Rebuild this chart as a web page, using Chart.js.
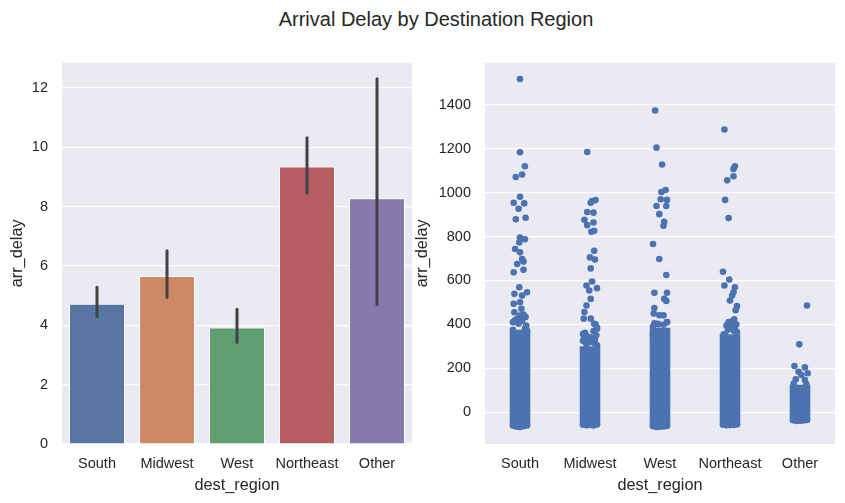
<!DOCTYPE html>
<html>
<head>
<meta charset="utf-8">
<script src="https://cdn.jsdelivr.net/npm/chart.js@4/dist/chart.umd.min.js"></script>
<style>
  body { margin: 0; background: #fff; }
  #wrap { position: relative; width: 845px; height: 503px; overflow: hidden; font-family: "Liberation Sans", Arial, sans-serif; }
  #title { position: absolute; left: 236px; top: 9px; width: 400px; text-align: center; font-size: 20px; line-height: 20px; color: #262626; }
  .box { position: absolute; top: 40px; height: 463px; }
  #leftBox { left: 0; width: 420px; }
  #rightBox { left: 405px; width: 440px; }
</style>
</head>
<body>
<div id="wrap">
  <div id="title">Arrival Delay by Destination Region</div>
  <div class="box" id="leftBox"><canvas id="barChart"></canvas></div>
  <div class="box" id="rightBox"><canvas id="stripChart"></canvas></div>
</div>
<script>
// categories
const regions = ['South', 'Midwest', 'West', 'Northeast', 'Other'];

// left: mean arr_delay with 95% CI
const meanDelay = [4.73, 5.66, 3.93, 9.35, 8.28];
const ciLow = [4.30, 4.94, 3.43, 8.46, 4.70];
const ciHigh = [5.28, 6.51, 4.54, 10.32, 12.31];
const barTicks = [0, 2, 4, 6, 8, 10, 12];

// right: dense band of overlapping points (from / to) per region
const denseLow = [-65, -58, -65, -58, -38];
const denseHigh = [375, 300, 385, 355, 125];
const stripTicks = [0, 200, 400, 600, 800, 1000, 1200, 1400];

// right: individual points around the band (jitter offset, delay)
const southJitter = [0, 0, 0.07, 0.03, -0.06, 0, -0.09, 0.06, -0.02, 0.08, -0.06, 0, 0.07, -0.01, -0.07, 0, 0.03, 0.05, -0.04, 0.05, -0.09, -0.01, 0.1, -0.08, 0.03, 0, -0.09, 0.02, 0.08, -0.07, -0.02, 0.07, -0.08, 0.05, -0.1, 0.09, 0, -0.04, 0.03, 0.1, -0.1,
    -0.1, -0.05, 0, 0.05, 0.1];
const southDelays = [1518, 1184, 1120, 1083, 1071, 981, 954, 951, 927, 886, 879, 796, 788, 773, 743, 728, 698, 686, 675, 649, 637, 569, 546, 539, 531, 501, 494, 471, 433, 418, 403, 380, 455, 445, 410, 395, 440, 425, 415, 372, 375,
    -62, -66, -68, -64, -61];
const midwestJitter = [-0.04, 0.03, 0.08, 0.01, -0.04, 0.05, -0.08, -0.04, 0.05, 0.06, 0.02, 0.06, 0, 0.07, 0.01, 0.03, -0.05, 0.1, -0.01, 0.01, -0.05, -0.08, -0.09, 0.01, 0.06, -0.09, 0.1, 0.08, 0.1, 0.05, 0.09, 0.02, 0.07, -0.07, -0.1, -0.05,
    -0.1, -0.07, -0.03, -0.09, 0, -0.05, 0.06, 0.1, 0.04,
    -0.1, -0.05, 0, 0.05, 0.1];
const midwestDelays = [1185, 962, 966, 954, 912, 909, 876, 852, 864, 826, 822, 735, 705, 695, 655, 595, 577, 565, 554, 516, 486, 456, 426, 426, 403, 358, 380, 400, 385, 370, 350, 340, 330, 340, 325, 310,
    355, 362, 345, 330, 320, 315, 315, 305, 335,
    -57, -60, -58, -61, -56];
const westJitter = [-0.07, -0.05, 0.03, 0.08, 0.02, 0.1, 0.01, -0.05, 0.09, -0.01, 0.06, 0.05, -0.1, -0.01, 0.09, -0.08, 0.1, 0.06, 0.09, -0.08, -0.09, -0.01, 0.05, -0.03, 0.1, -0.1,
    -0.08, -0.02, 0.05, 0.1, -0.1,
    -0.1, -0.05, 0, 0.05, 0.1];
const westDelays = [1374, 1205, 1128, 1012, 1003, 967, 970, 939, 939, 902, 867, 849, 766, 698, 625, 544, 544, 517, 507, 474, 449, 441, 441, 403, 411, 350,
    405, 400, 398, 410, 390,
    -64, -67, -66, -65, -63];
const northeastJitter = [-0.08, 0.07, 0.05, 0.05, -0.04, -0.07, -0.02, -0.1, -0.01, -0.08, 0.07, 0.05, 0.03, 0, 0.1, 0.08, -0.02, 0.06, 0.07, -0.07, 0.04, 0.09, -0.05, 0.01, 0.06, -0.09, 0.1, -0.03,
    -0.1, -0.05, 0, 0.05, 0.1];
const northeastDelays = [1288, 1120, 1108, 1075, 1056, 967, 884, 640, 604, 577, 569, 546, 531, 509, 483, 464, 411, 423, 380, 350, 415, 400, 395, 390, 370, 355, 365, 375,
    -57, -60, -59, -58, -56];
const otherJitter = [0.1, -0.01, -0.08, 0.07, -0.02, 0.02, 0.11, -0.06, 0.07, -0.09, 0.09,
    -0.1, -0.05, 0, 0.05, 0.1];
const otherDelays = [486, 309, 210, 204, 184, 169, 177, 150, 146, 130, 128,
    -37, -40, -39, -38, -36];

const stripJitter = [southJitter, midwestJitter, westJitter, northeastJitter, otherJitter];
const stripDelays = [southDelays, midwestDelays, westDelays, northeastDelays, otherDelays];

const barColors = ['#5975a4', '#cc8963', '#5f9e6e', '#b55d60', '#857aab'];
const pointColor = '#4c72b0';
const textColor = '#262626';
const fontFamily = '"Liberation Sans", Arial, sans-serif';

const plotBackground = {
    id: 'plotBackground',
    beforeDraw(chart) {
        const {ctx, chartArea: a} = chart;
        ctx.save();
        ctx.fillStyle = '#eaeaf2';
        ctx.fillRect(a.left, a.top, a.right - a.left, a.bottom - a.top);
        ctx.restore();
    }
};

const errorBars = {
    id: 'errorBars',
    afterDatasetsDraw(chart) {
        const {ctx, scales: {x, y}} = chart;
        ctx.save();
        ctx.strokeStyle = '#424242';
        ctx.lineWidth = 3;
        ctx.lineCap = 'round';
        regions.forEach((r, i) => {
            const px = x.getPixelForValue(i);
            ctx.beginPath();
            ctx.moveTo(px, y.getPixelForValue(ciLow[i]));
            ctx.lineTo(px, y.getPixelForValue(ciHigh[i]));
            ctx.stroke();
        });
        ctx.restore();
    }
};

function axisX(extra) {
    return Object.assign({
        grid: { display: false },
        border: { display: false },
        ticks: { color: textColor, font: { family: fontFamily, size: 14.5 }, padding: 3 },
        title: { display: true, text: 'dest_region', color: textColor, font: { family: fontFamily, size: 16.3 }, padding: { top: 0, bottom: 8 } },
        afterFit: s => { s.height = 59; }
    }, extra);
}

function axisY(min, max, tickList, width) {
    return {
        min: min,
        max: max,
        grid: { color: '#ffffff', lineWidth: 1.2, drawTicks: false },
        border: { display: false },
        ticks: { color: textColor, font: { family: fontFamily, size: 14.5 }, padding: 14, callback: v => String(v) },
        title: { display: true, text: 'arr_delay', color: textColor, font: { family: fontFamily, size: 16.3 }, padding: { top: 8, bottom: 0 } },
        afterBuildTicks: s => { s.ticks = tickList.map(v => ({ value: v })); },
        afterFit: s => { s.width = width; }
    };
}

new Chart(document.getElementById('barChart'), {
    type: 'bar',
    data: {
        labels: regions,
        datasets: [{
            data: meanDelay,
            backgroundColor: barColors,
            borderColor: '#ffffff',
            borderWidth: 1,
            barPercentage: 0.8,
            categoryPercentage: 1.0
        }]
    },
    options: {
        responsive: true,
        maintainAspectRatio: false,
        animation: false,
        layout: { padding: { top: 21, right: 8, left: 0, bottom: 0 } },
        plugins: { legend: { display: false }, tooltip: { enabled: false } },
        scales: {
            x: axisX({}),
            y: axisY(0, 12.85, barTicks, 62)
        }
    },
    plugins: [plotBackground, errorBars]
});

const stripSets = [];
regions.forEach((r, i) => {
    stripSets.push({
        type: 'line',
        data: [{ x: i, y: denseLow[i] }, { x: i, y: denseHigh[i] }],
        borderColor: pointColor,
        borderWidth: 20.6,
        borderCapStyle: 'butt',
        pointRadius: 0,
        showLine: true
    });
    stripSets.push({
        type: 'scatter',
        data: stripDelays[i].map((v, k) => ({ x: i + stripJitter[i][k], y: v })),
        backgroundColor: pointColor,
        borderWidth: 0,
        pointRadius: 3.3
    });
});

new Chart(document.getElementById('stripChart'), {
    type: 'scatter',
    data: { datasets: stripSets },
    options: {
        responsive: true,
        maintainAspectRatio: false,
        animation: false,
        layout: { padding: { top: 21, right: 10, left: 0, bottom: 0 } },
        plugins: { legend: { display: false }, tooltip: { enabled: false } },
        scales: {
            x: axisX({
                type: 'linear',
                min: -0.5,
                max: 4.5,
                afterBuildTicks: s => { s.ticks = regions.map((r, i) => ({ value: i })); },
                ticks: {
                    color: textColor, font: { family: fontFamily, size: 14.5 }, padding: 3,
                    callback: v => regions[v]
                }
            }),
            y: axisY(-145, 1592, stripTicks, 80)
        }
    },
    plugins: [plotBackground]
});
</script>
</body>
</html>
